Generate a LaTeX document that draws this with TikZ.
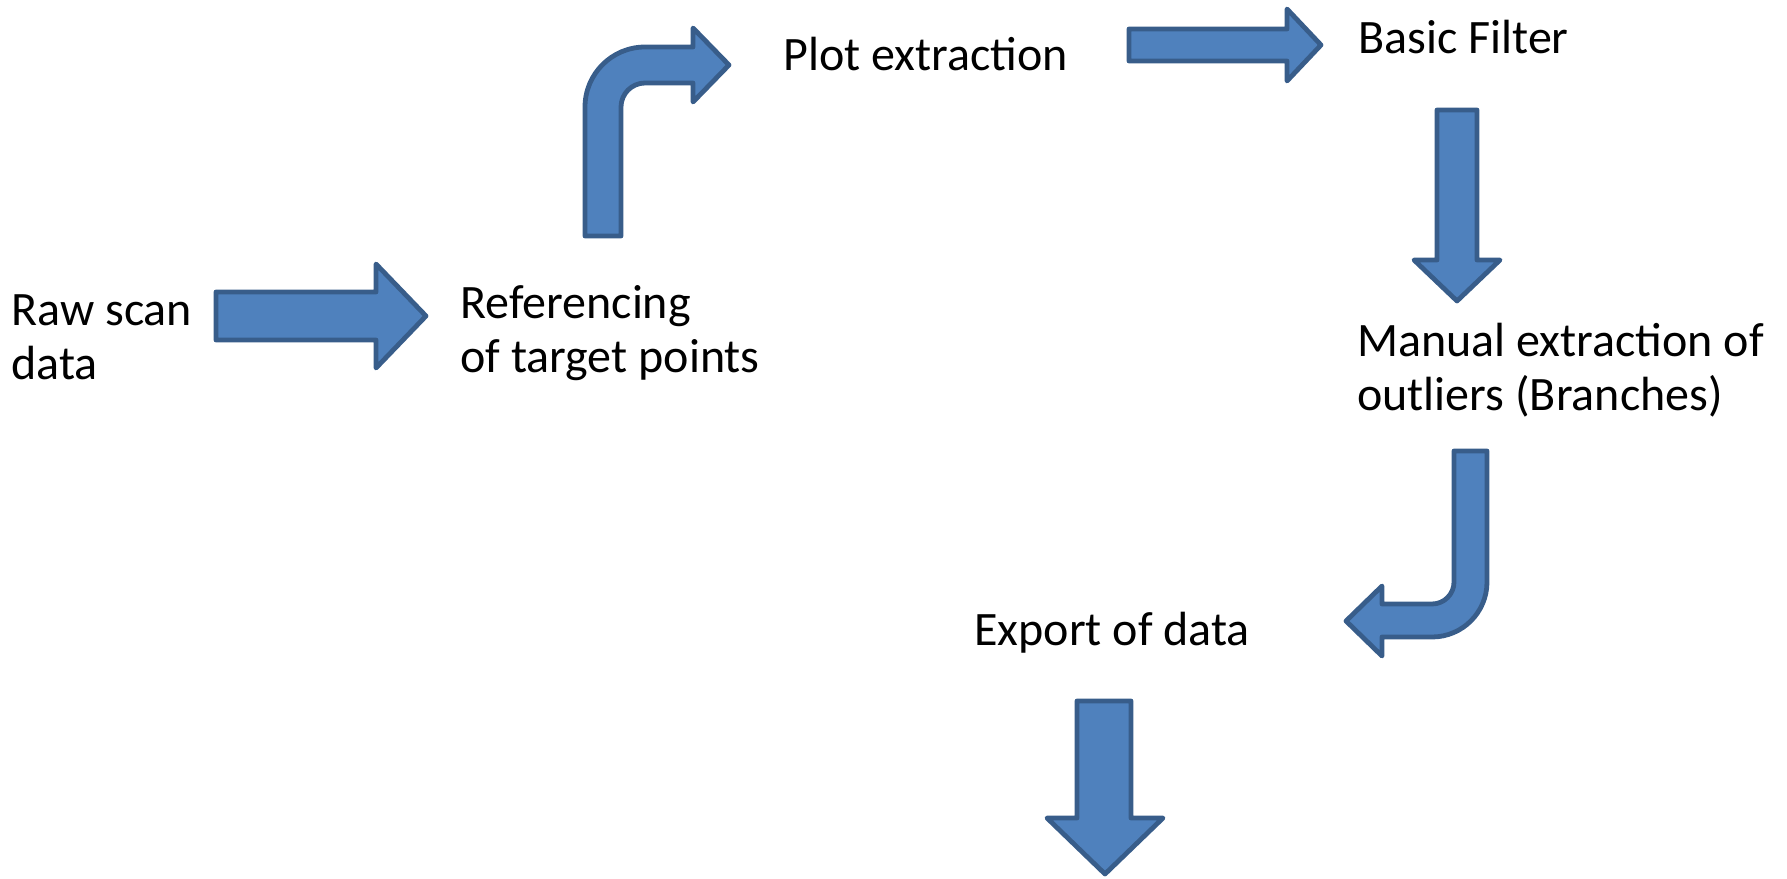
\documentclass[tikz,border=0pt]{standalone}
\usepackage{fontspec}
\setmainfont{Carlito}
\usepackage{tikz}

\definecolor{arrowfill}{HTML}{4F81BD}
\definecolor{arrowline}{HTML}{385D8A}

\tikzset{
  blockarrow/.style={fill=arrowfill, draw=arrowline, line width=2.4pt, line join=round},
  steptext/.style={anchor=base west, inner sep=0pt, align=left,
    font=\fontsize{24}{27}\selectfont}
}

\begin{document}
\begin{tikzpicture}[x=0.5pt, y=-0.5pt]

\useasboundingbox (0, 0) rectangle (1787, 878);

	% base of last line for the two-line labels
	\coordinate (raw) at (11, 379);
	\coordinate (ref) at (460, 372);
	\coordinate (plot) at (783, 70);
	\coordinate (basic) at (1358, 53);
	\coordinate (manual) at (1357, 410);
	\coordinate (export) at (974, 645);

	% Step labels
	\node[steptext] (rawtxt) at (raw) {Raw scan\\data};
	\node[steptext] (reftxt) at (ref) {Referencing\\of target points};
	\node[steptext] (plottxt) at (plot) {Plot extraction};
	\node[steptext] (basictxt) at (basic) {Basic Filter};
	\node[steptext] (manualtxt) at (manual) {Manual extraction of\\outliers (Branches)};
	\node[steptext] (exporttxt) at (export) {Export of data};

	% Draw straight arrow raw -> referencing
	\draw[blockarrow] (216, 292) -- (376, 292) -- (376, 264) -- (426, 316)
		-- (376, 368) -- (376, 340) -- (216, 340) -- cycle;

	% Draw bent arrow referencing -> plot extraction
	\draw[blockarrow] (585, 236) -- (585, 107) arc[start angle=180, end angle=270, radius=60]
		-- (693, 47) -- (693, 28) -- (729, 65) -- (693, 102) -- (693, 83) -- (645, 83)
		arc[start angle=270, end angle=180, radius=24] -- (621, 236) -- cycle;

	% Draw straight arrow plot extraction -> basic filter
	\draw[blockarrow] (1129, 29) -- (1287, 29) -- (1287, 9) -- (1321, 45)
		-- (1287, 81) -- (1287, 61) -- (1129, 61) -- cycle;

	% Draw down arrow basic filter -> manual extraction
	\draw[blockarrow] (1437, 110) -- (1477, 110) -- (1477, 260) -- (1500, 260)
		-- (1457, 301) -- (1414, 260) -- (1437, 260) -- cycle;

	% Draw bent arrow manual extraction -> export
	\draw[blockarrow] (1454, 451) -- (1487, 451) -- (1487, 582) arc[start angle=0, end angle=90, radius=55]
		-- (1382, 637) -- (1382, 656) -- (1346, 621) -- (1382, 586) -- (1382, 604) -- (1432, 604)
		arc[start angle=90, end angle=0, radius=22] -- cycle;

	% Draw down arrow below export
	\draw[blockarrow] (1077, 701) -- (1131, 701) -- (1131, 818) -- (1163, 818)
		-- (1105, 874) -- (1047, 818) -- (1077, 818) -- cycle;

\end{tikzpicture}
\end{document}
